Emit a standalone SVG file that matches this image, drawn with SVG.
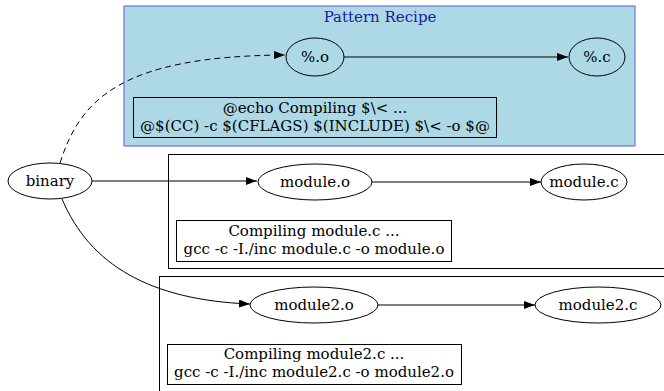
<svg xmlns="http://www.w3.org/2000/svg" width="664" height="391" viewBox="0 0 664 391">
<style>
text{font-family:"DejaVu Serif","Liberation Serif",serif;font-size:15px;fill:#000;text-anchor:middle}
.n{fill:#fff;stroke:#000;stroke-width:1}
.nb{fill:none;stroke:#000;stroke-width:1}
.e{fill:none;stroke:#000;stroke-width:1}
</style>
<defs>
<marker id="ah" markerWidth="11" markerHeight="8" refX="11" refY="4" orient="auto" markerUnits="userSpaceOnUse">
<path d="M0,0 L11,4 L0,8 Z" fill="#000"/>
</marker>
</defs>
<rect width="664" height="391" fill="#fff"/>
<g id="cluster_pattern">
<rect x="124" y="6" width="511" height="140" fill="#add8e6" stroke="#5b5bcf"/>
<text x="380" y="22" style="fill:#1a1a9c">Pattern Recipe</text>
</g>
<g id="cluster_module">
<rect x="168.5" y="154.5" width="496" height="114" fill="none" stroke="#000"/>
</g>
<g id="cluster_module2">
<rect x="159.5" y="276.5" width="506" height="120" fill="none" stroke="#000"/>
</g>
<g id="edges">
<path class="e" d="M60,163 C80,100 120,56 285,55" stroke-dasharray="6,4" marker-end="url(#ah)"/>
<path class="e" d="M344,57 L568,57" marker-end="url(#ah)"/>
<path class="e" d="M92,181 L257,181" marker-end="url(#ah)"/>
<path class="e" d="M372,182 L541,182" marker-end="url(#ah)"/>
<path class="e" d="M62,199 C90,265 150,300 250,304" marker-end="url(#ah)"/>
<path class="e" d="M378,305 L535,305" marker-end="url(#ah)"/>
</g>
<g id="node_po">
<ellipse class="nb" cx="315" cy="57" rx="29" ry="19"/>
<text x="315" y="62">%.o</text>
</g>
<g id="node_pc">
<ellipse class="nb" cx="597" cy="57" rx="28" ry="19"/>
<text x="597" y="62">%.c</text>
</g>
<g id="node_recipe">
<rect x="133.5" y="97.5" width="363" height="40" fill="none" stroke="#000"/>
<text x="315" y="113">@echo Compiling $\&lt; ...</text>
<text x="315" y="131">@$(CC) -c $(CFLAGS) $(INCLUDE) $\&lt; -o $@</text>
</g>
<g id="node_binary">
<ellipse class="n" cx="50" cy="181" rx="42" ry="18"/>
<text x="50" y="186">binary</text>
</g>
<g id="node_moduleo">
<ellipse class="n" cx="315" cy="182" rx="57" ry="18"/>
<text x="315" y="187">module.o</text>
</g>
<g id="node_modulec">
<ellipse class="n" cx="584" cy="182" rx="43" ry="18"/>
<text x="584" y="187">module.c</text>
</g>
<g id="node_recipe1">
<rect x="176.5" y="220.5" width="275" height="41" fill="none" stroke="#000"/>
<text x="314" y="236">Compiling module.c ...</text>
<text x="314" y="254">gcc -c -I./inc module.c -o module.o</text>
</g>
<g id="node_module2o">
<ellipse class="n" cx="314" cy="305" rx="64" ry="18"/>
<text x="314" y="310">module2.o</text>
</g>
<g id="node_module2c">
<ellipse class="n" cx="598" cy="305" rx="63" ry="18"/>
<text x="598" y="310">module2.c</text>
</g>
<g id="node_recipe2">
<rect x="167.5" y="344.5" width="294" height="40" fill="none" stroke="#000"/>
<text x="314" y="359">Compiling module2.c ...</text>
<text x="314" y="377">gcc -c -I./inc module2.c -o module2.o</text>
</g>
</svg>
